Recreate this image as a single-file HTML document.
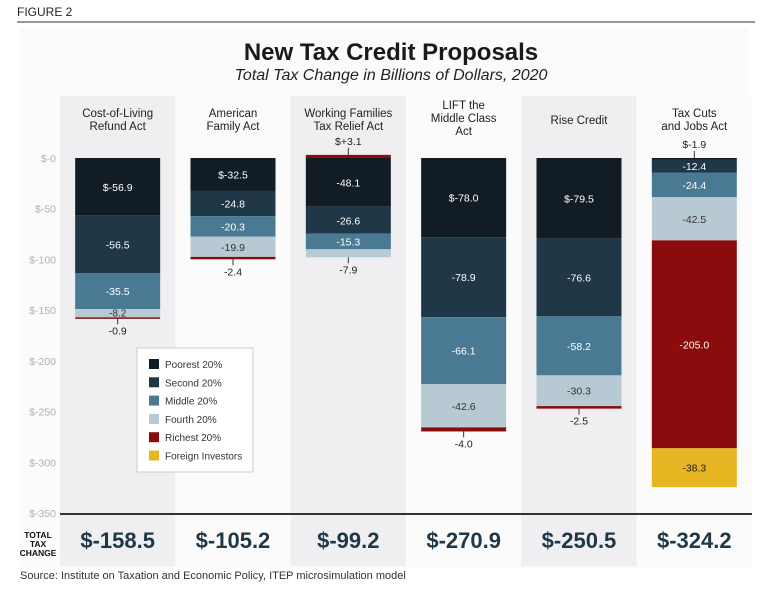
<!DOCTYPE html>
<html><head><meta charset="utf-8">
<style>
body{margin:0;width:782px;height:589px;background:#fff;font-family:"Liberation Sans",sans-serif;overflow:hidden}
svg text{font-family:"Liberation Sans",sans-serif}
</style></head>
<body>
<svg id="chart" width="782" height="589" xmlns="http://www.w3.org/2000/svg">
<rect x="20" y="28" width="728" height="540" fill="#fbfbfb"/>
<text x="17" y="16" font-size="12" fill="#222">FIGURE 2</text>
<line x1="17" y1="22" x2="755" y2="22" stroke="#777" stroke-width="1.5"/>
<text x="391" y="60" font-size="24" font-weight="bold" text-anchor="middle" fill="#1a1a1a">New Tax Credit Proposals</text>
<text x="391" y="80" font-size="16" font-style="italic" text-anchor="middle" fill="#222">Total Tax Change in Billions of Dollars, 2020</text>
<g id="bands"></g><g id="axis"></g><g id="bars"></g>
<line x1="60" y1="514" x2="752" y2="514" stroke="#333" stroke-width="2"/>
<text x="38" y="538" font-size="8.5" font-weight="bold" text-anchor="middle" fill="#111">TOTAL</text>
<text x="38" y="547" font-size="8.5" font-weight="bold" text-anchor="middle" fill="#111">TAX</text>
<text x="38" y="556" font-size="8.5" font-weight="bold" text-anchor="middle" fill="#111">CHANGE</text>
<g id="legend"></g>
<text x="20" y="579" font-size="11" fill="#333">Source: Institute on Taxation and Economic Policy, ITEP microsimulation model</text>
</svg>
<script>
const categories = [["Cost-of-Living","Refund Act"],["American","Family Act"],["Working Families","Tax Relief Act"],["LIFT the","Middle Class","Act"],["Rise Credit"],["Tax Cuts","and Jobs Act"]];
const seriesNames = ["Poorest 20%","Second 20%","Middle 20%","Fourth 20%","Richest 20%","Foreign Investors"];
const poorest = [-56.9,-32.5,-48.1,-78.0,-79.5,-1.9];
const second = [-56.5,-24.8,-26.6,-78.9,-76.6,-12.4];
const middle = [-35.5,-20.3,-15.3,-66.1,-58.2,-24.4];
const fourth = [-8.2,-19.9,-7.9,-42.6,-30.3,-42.5];
const richest = [-0.9,-2.4,3.1,-4.0,-2.5,-205.0];
const foreign = [0,0,0,0,0,-38.3];
const totals = ["$-158.5","$-105.2","$-99.2","$-270.9","$-250.5","$-324.2"];
const yTicks = [0,-50,-100,-150,-200,-250,-300,-350];
const colors = ["#111c24","#1f3746","#4a7a93","#b7c9d3","#8b0c0c","#e8b622"];
const textCol = ["#fff","#fff","#fff","#333","#fff","#222"];
const series=[poorest,second,middle,fourth,richest,foreign];
const NS="http://www.w3.org/2000/svg";
const y=v=>158-v*(355/350);
const bandX=i=>60+i*115.33;
const bw=115.33, barW=85;
function mk(tag,attrs,parent,txt){const e=document.createElementNS(NS,tag);for(const k in attrs)e.setAttribute(k,attrs[k]);if(txt!==undefined)e.textContent=txt;(typeof parent==='string'?document.getElementById(parent):parent).appendChild(e);return e;}
categories.forEach((c,i)=>{
 const r=mk('rect',{x:bandX(i),y:96,width:bw,height:470,fill:i%2==0?'#efeff1':'#fbfbfb'},'bands');
 
 
 const cx=bandX(i)+bw/2;
 const top=c.length==3?109:(c.length==1?124:117);
 c.forEach((line,j)=>{const t=mk('text',{x:cx,y:top+j*13,'font-size':11.5,'text-anchor':'middle',fill:'#222'},'bands',line);
  
  });
 const tt=mk('text',{x:cx,y:548,'font-size':22,'font-weight':'bold','text-anchor':'middle',fill:'#1f3746'},'bands',totals[i]);
 
 
});
yTicks.forEach(v=>{const t=mk('text',{x:56,y:y(v)+4,'font-size':10.5,'text-anchor':'end',fill:'#b0b0b0'},'axis','$'+(v==0?'-0':v));
 
 });
categories.forEach((c,i)=>{
 const x0=bandX(i)+(bw-barW)/2, cx=x0+barW/2;
 const hasPos=series.some(s=>s[i]>0);
 let neg=0,pos=0,firstNeg=true;
 series.forEach((s,k)=>{
  const v=s[i]; if(!v)return;
  let a,b; if(v<0){a=neg;b=neg+v;neg=b;}else{a=pos;b=pos+v;pos=b;}
  const yt=Math.min(y(a),y(b)), h=Math.abs(y(a)-y(b));
  const r=mk('rect',{x:x0,y:yt,width:barW,height:Math.max(h,1.5),fill:colors[k]},'bars');
  
  
  let dollar=false;
  if(v>0)dollar=true;
  else if(firstNeg){dollar=!hasPos;firstNeg=false;}
  const label=(dollar?'$':'')+(v>0?'+':'')+v.toFixed(1);
  let t;
  if(h>=8.2){t=mk('text',{x:cx,y:yt+h/2+(h<12?3.5:4),'font-size':h<12?10:10.5,'text-anchor':'middle',fill:textCol[k]},'bars',label);}
  else{
   const above=(v>0)||(k==0);
   if(above){mk('line',{x1:cx,y1:yt,x2:cx,y2:yt-7,stroke:'#333'},'bars');t=mk('text',{x:cx,y:yt-10,'font-size':10.5,'text-anchor':'middle',fill:'#222'},'bars',label);}
   else{mk('line',{x1:cx,y1:yt+h,x2:cx,y2:yt+h+6,stroke:'#333'},'bars');t=mk('text',{x:cx,y:yt+h+16,'font-size':10.5,'text-anchor':'middle',fill:'#222'},'bars',label);}
  }
  
  
 });
});
mk('rect',{x:137,y:348,width:116,height:124,fill:'#fff',stroke:'#ccc'},'legend');
seriesNames.forEach((n,k)=>{
 const g=mk('g',{},'legend');
 
 
 mk('rect',{x:149,y:359+k*18.3,width:10,height:10,fill:colors[k]},g);
 mk('text',{x:165,y:368+k*18.3,'font-size':10,fill:'#333'},g,n);
});
</script>
</body></html>
